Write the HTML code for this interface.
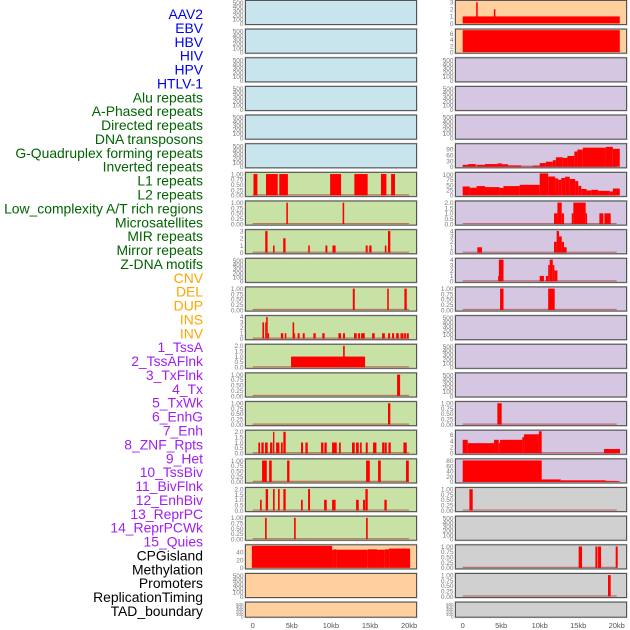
<!DOCTYPE html>
<html><head><meta charset="utf-8"><style>
body{margin:0;background:#fff;}
svg{display:block;font-family:"Liberation Sans",sans-serif;}
</style></head><body>
<svg id="chart" width="630" height="630" viewBox="0 0 630 630"></svg>
<script>
const rowLabels=["AAV2","EBV","HBV","HIV","HPV","HTLV-1","Alu repeats","A-Phased repeats","Directed repeats","DNA transposons","G-Quadruplex forming repeats","Inverted repeats","L1 repeats","L2 repeats","Low_complexity A/T rich regions","Microsatellites","MIR repeats","Mirror repeats","Z-DNA motifs","CNV","DEL","DUP","INS","INV","1_TssA","2_TssAFlnk","3_TxFlnk","4_Tx","5_TxWk","6_EnhG","7_Enh","8_ZNF_Rpts","9_Het","10_TssBiv","11_BivFlnk","12_EnhBiv","13_ReprPC","14_ReprPCWk","15_Quies","CPGisland","Methylation","Promoters","ReplicationTiming","TAD_boundary"];
const labelGroups=[6,13,5,15,5];
const xTicks=[0,5,10,15,20];
const xTickLabels=["0","5kb","10kb","15kb","20kb"];
const T_EMPTY=[0,100,200,300,400,500];
const T_01=[0,0.25,0.5,0.75,1];
const T_02=[0,0.5,1,1.5,2];
// bars: [startKb, endKb, value]
const R0=[[0,20.4,1],[1.75,1.95,3],[4.05,4.25,2]];
const R1=[[0,20.4,7.1]];
const R5=[[0,0.7,10],[0.7,1.7,14],[1.8,2.9,10],[2.9,4.5,14],[4.5,5.1,17],[5.1,5.9,13],[5.9,7.6,7],[7.6,9.1,1],[9.1,10,6],[10,10.8,19],[10.8,11.7,26],[11.7,12.1,34],[12.1,13,49],[13,13.6,46],[13.6,14.5,56],[14.5,14.9,79],[14.9,15.6,89],[15.6,18.6,99],[18.6,19.5,103],[19.5,20.4,93]];
const L6=[[0.1,0.6,1],[1.7,3.2,1],[3.4,4.5,1],[9.9,11.3,1],[13,14.7,1],[16.4,17.1,1],[17.7,18.2,1]];
const R6=[[0,0.9,43],[0.9,1.8,37],[1.8,2.9,45],[2.9,4.8,40],[4.8,5.3,36],[5.3,7.4,45],[7.4,10,51],[10,11.1,106],[11.1,12,91],[12,12.4,82],[12.4,12.8,75],[12.8,13.3,84],[13.3,13.9,90],[13.9,14.6,79],[14.6,15,69],[15,15.4,46],[15.4,16.1,31],[16.1,16.7,24],[16.7,17.6,27],[17.6,19.1,22],[19.1,19.5,19],[19.5,20.4,33]];
const L7=[[4.3,4.5,1],[11.5,11.7,1]];
const R7=[[11.86,12.3,1],[12.3,12.86,2],[12.86,13.16,1],[14.16,14.37,1],[14.37,15.97,2],[15.97,16.15,1],[17.75,18.27,1],[18.4,19.22,1]];
const L8=[[1.6,1.9,3],[2.6,2.8,1],[3.9,4.2,2],[7.1,7.3,1],[9.3,9.55,1],[10.2,10.6,1],[14.45,14.7,1],[14.9,15.2,1],[16.9,17.1,1],[17.3,17.6,3]];
const R8=[[1.9,2.5,1],[11.86,12.2,2],[12.2,12.5,4],[12.5,12.86,3],[12.86,13.16,2],[13.16,13.5,1]];
const R9=[[4.6,4.7,1],[4.7,5.3,4],[10,10.55,1],[10.8,11.1,1],[11.1,11.3,3],[11.3,11.7,4],[11.7,11.9,3],[11.9,12.3,2]];
const L10=[[12.8,13.05,1],[17.2,17.4,1],[19.4,19.7,1]];
const R10=[[4.85,5.3,1],[11.1,11.95,1]];
const L11=[[1.24,1.45,3],[1.6,1.72,3],[1.72,1.92,4],[1.92,2.1,1],[3.6,3.9,1],[4.1,4.3,1],[5.1,5.3,3],[5.3,5.4,1],[5.75,6,1],[6.4,6.65,1],[7.76,8.06,1],[8.9,9.2,1],[10.96,11.3,1],[11.55,11.8,1],[12.96,13.3,1],[13.48,13.73,1],[13.86,14.33,1],[15.27,15.6,1],[16.55,16.9,1],[17.31,17.57,1],[17.82,18.08,1],[18.34,18.68,1],[18.9,19.27,1],[19.36,19.6,1],[19.7,19.96,1]];
const L12=[[4.9,14.37,1],[11.56,11.77,2]];
const L13=[[18.46,18.85,1]];
const L14=[[17.3,17.6,1]];
const R14=[[4.5,5.06,1]];
const L15=[[0.72,0.94,1],[1.11,1.41,1],[1.58,1.92,1],[2.22,2.52,1],[2.6,2.77,2],[2.99,3.41,1],[3.62,3.84,1],[3.92,4.22,2],[6.18,6.44,1],[6.74,7.04,1],[8.74,9.04,1],[9.17,9.47,1],[10.15,10.75,1],[11.04,11.26,1],[12.7,13.05,1],[13.22,13.56,1],[13.73,13.94,1],[14.46,14.71,1],[15.39,15.82,1],[16.55,16.84,1],[16.89,17.14,1],[17.36,17.65,1],[19.27,19.7,1]];
const R15=[[0,0.65,4.4],[0.65,4.07,3.3],[4.07,4.68,4.4],[4.68,4.85,3.3],[4.85,7.75,4.4],[7.75,7.97,5.3],[7.97,9.9,6.2],[9.9,10.26,7.2],[18.35,20.43,1.4]];
const L16=[[1.2,1.8,1],[2.1,2.43,1],[4.4,4.7,1],[14.5,14.97,1],[16.03,16.38,1],[19.6,19.96,1]];
const R16=[[0,10.26,81],[10.26,12.73,9.4],[12.73,18.57,6],[18.57,20.4,3]];
const L17=[[0.94,1.15,1],[1.66,1.96,2],[2.6,2.81,2],[3.24,3.45,2],[3.92,4.22,2],[6.18,6.4,1],[7.08,7.33,2],[9.13,9.47,1],[10.15,10.6,1],[13.22,13.56,1],[14.11,14.37,1],[14.41,14.71,2],[16.84,17.14,1]];
const R17=[[0.87,1.3,1]];
const L18=[[1.58,1.79,1],[5.29,5.5,1],[14.5,14.71,1]];
const L19=[[-0.1,10.15,57],[10.15,10.4,47],[10.4,10.7,48],[10.7,14.71,47],[14.71,15.9,48],[15.9,16.9,47],[16.9,17.44,48],[17.44,20.13,50]];
const R19=[[15.06,15.5,1],[17.23,17.5,1],[17.58,17.97,1],[19.87,20.13,1]];
const R20=[[18.87,19.22,1]];

const BLUE="#c8e4ec",GREEN="#c8e1a4",PEACH="#ffd09e",LAV="#d5c6e1",GRAY="#d0d0d0";
function P(bg,ymax,ticks,bars,fmt){return {bg,ymax,ticks,bars,fmt};}
const E=(bg)=>P(bg,530,T_EMPTY,[],0);
const leftCol=[E(BLUE),E(BLUE),E(BLUE),E(BLUE),E(BLUE),E(BLUE),
 P(GREEN,1.03,T_01,L6,2),P(GREEN,1.03,T_01,L7,2),P(GREEN,3.05,[0,1,2,3],L8,0),E(GREEN),P(GREEN,1.03,T_01,L10,2),P(GREEN,4.05,[0,1,2,3,4],L11,0),P(GREEN,2.05,T_02,L12,1),P(GREEN,1.03,T_01,L13,2),P(GREEN,1.03,T_01,L14,2),P(GREEN,2.05,T_02,L15,1),P(GREEN,1.03,T_01,L16,2),P(GREEN,2.05,T_02,L17,1),P(GREEN,1.03,T_01,L18,2),
 P(PEACH,57,[0,20,40],L19,0),E(PEACH),E(PEACH)];
const rightCol=[P(PEACH,3.1,[0,1,2,3],R0,0),P(PEACH,7.1,[0,2,4,6],R1,0),E(LAV),E(LAV),E(LAV),P(LAV,114,[0,30,60,90],R5,0),P(LAV,106,[0,25,50,75,100],R6,0),P(LAV,2.05,T_02,R7,1),P(LAV,4.05,[0,1,2,3,4],R8,0),P(LAV,4.05,[0,1,2,3,4],R9,0),P(LAV,1.03,T_01,R10,2),E(LAV),E(LAV),E(LAV),P(LAV,1.03,T_01,R14,2),P(LAV,7.2,[0,2,4,6],R15,0),P(LAV,83,[0,20,40,60,80],R16,0),
 P(GRAY,1.03,T_01,R17,2),E(GRAY),P(GRAY,1.03,T_01,R19,2),P(GRAY,1.03,T_01,R20,2),E(GRAY)];

const NS="http://www.w3.org/2000/svg";
const svg=document.getElementById("chart");
function mk(tag,attrs,parent){const e=document.createElementNS(NS,tag);for(const k in attrs)e.setAttribute(k,attrs[k]);(parent||svg).appendChild(e);return e;}
function kx(col,kb){return col===0?252.7+kb*7.82:462.7+kb*7.7;}
const colX=[245.5,455.5],colW=171;

let gi=0,cnt=0;const gcol=["#0000ee","#006400","#ffa500","#a020f0","#000000"];
rowLabels.forEach((t,i)=>{
  const yy=14+i*(597/43);
  const el=mk("text",{x:203,y:yy+5,"text-anchor":"end","font-size":13.9,fill:gcol[gi]});
  el.textContent=t;
  
  
  cnt++;if(cnt>=labelGroups[gi]){gi++;cnt=0;}
});

[leftCol,rightCol].forEach((col,c)=>{
  col.forEach((p,r)=>{
    const top=0.5+28.65*r, h=(r===21?15:24);
    const g=mk("g",{});
    
    
    mk("rect",{x:colX[c]-0.5,y:top-0.5,width:colW+1,height:h+1,fill:"none",stroke:"#bbb","stroke-width":1},g);
    mk("rect",{x:colX[c],y:top,width:colW,height:h,fill:p.bg,stroke:"#555","stroke-width":1},g);
    const y0=top+h-1,ys=(h-2)/p.ymax;
    const Y=v=>y0-v*ys;
    if(p.bars.length&&p.bg!==PEACH){
      const bl=mk("line",{x1:kx(c,0),x2:kx(c,20),y1:y0-0.5,y2:y0-0.5,stroke:"#b03030","stroke-width":1.2,opacity:0.6},g);
      
      
    }
    p.bars.forEach(b=>{
      const x1=Math.max(kx(c,b[0]),colX[c]+0.5),x2=kx(c,b[1]);
      const yt=Math.max(Y(b[2]),top+0.5);
      const el=mk("rect",{x:x1,y:yt,width:Math.max(x2-x1,1),height:y0-yt,fill:"#ff0000"},g);
      
      
    });
    p.ticks.forEach(v=>{
      const el=mk("text",{x:colX[c]-2,y:Y(v)+2.3,"text-anchor":"end","font-size":r===21?4.5:6.5,fill:"#777"},g);
      el.textContent=p.fmt?v.toFixed(p.fmt):String(v);
      
      
    });
  });
  xTicks.forEach((v,i)=>{
    const el=mk("text",{x:kx(c,v),y:628,"text-anchor":"middle","font-size":7.5,fill:"#555"});
    el.textContent=xTickLabels[i];
    
    
  });
});
</script>
</body></html>
